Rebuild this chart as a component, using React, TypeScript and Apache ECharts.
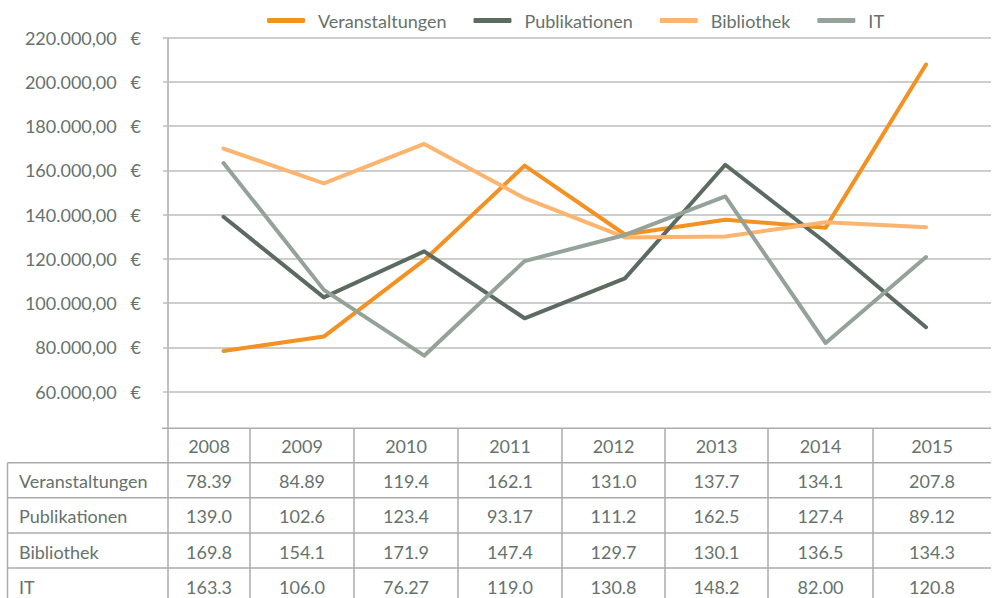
import React, { useEffect, useRef } from "react";
import * as echarts from "echarts";

const years = ["2008", "2009", "2010", "2011", "2012", "2013", "2014", "2015"];
const veranstaltungen = [78390, 84890, 119400, 162100, 131000, 137700, 134100, 207800];
const publikationen = [139000, 102600, 123400, 93170, 111200, 162500, 127400, 89120];
const bibliothek = [169800, 154100, 171900, 147400, 129700, 130100, 136500, 134300];
const it = [163300, 106000, 76270, 119000, 130800, 148200, 82000, 120800];
const seriesNames = ["Veranstaltungen", "Publikationen", "Bibliothek", "IT"];
const seriesColors = ["#f39122", "#5b6b61", "#fcb46f", "#94a29a"];

const FONT = "Lato, 'Noto Sans', sans-serif";
const FONT_SIZE = 18;
const FONT_WEIGHT = 400;
const TEXT = "#66726c";
const GRID = "#bcbcbc";
const TABLE_LINE = "#ababab";

// table layout
const colEdges = [168, 250, 354, 458, 562, 665, 768, 873, 991];
const headerTop = 428.3;
const rowEdges = [462.7, 497.7, 533, 568, 603];
const tableLeft = 7.5;

export default function App() {
  const ref = useRef<HTMLDivElement>(null);
  useEffect(() => {
    if (!ref.current) return;
    const chart = echarts.init(ref.current, undefined, { renderer: "svg" });
    const allSeries = [veranstaltungen, publikationen, bibliothek, it];

    const graphic: any[] = [];
    const line = (x1: number, y1: number, x2: number, y2: number, color: string) =>
      graphic.push({
        type: "line",
        silent: true,
        shape: { x1, y1, x2, y2 },
        style: { stroke: color, lineWidth: 1.5 },
      });
    line(168, 37.5, 168, 598, TABLE_LINE);
    line(162, headerTop, 991, headerTop, TABLE_LINE);
    rowEdges.slice(0, 4).forEach((y) => line(tableLeft, y, 991, y, TABLE_LINE));
    colEdges.slice(1, 8).forEach((x) => line(x, headerTop, x, 598, TABLE_LINE));
    line(tableLeft, rowEdges[0], tableLeft, 598, TABLE_LINE);

    const txt = (text: string, x: number, y: number, align: string) =>
      graphic.push({
        type: "text",
        silent: true,
        x,
        y,
        style: {
          text,
          fill: TEXT,
          font: `${FONT_WEIGHT} ${FONT_SIZE}px ${FONT}`,
          align,
          verticalAlign: "middle",
        },
      });
    years.forEach((yr, i) => {
      txt(yr, (colEdges[i] + colEdges[i + 1]) / 2, (headerTop + rowEdges[0]) / 2, "center");
    });
    seriesNames.forEach((name, r) => {
      const cy = (rowEdges[r] + rowEdges[r + 1]) / 2 + 1;
      txt(name, 19, cy, "left");
      allSeries[r].forEach((v, i) => {
        txt((v / 1000).toPrecision(4), (colEdges[i] + colEdges[i + 1]) / 2, cy, "center");
      });
    });

    const fmt = (v: number) => `${Math.round(v / 1000)}.000,00\u00a0\u00a0 €`;

    chart.setOption({
      animation: false,
      textStyle: { fontFamily: FONT },
      legend: {
        left: 267,
        top: 11.5,
        padding: 0,
        icon: "roundRect",
        itemWidth: 38,
        itemHeight: 5,
        itemGap: 27,
        data: seriesNames,
        textStyle: {
          fontSize: FONT_SIZE,
          fontWeight: FONT_WEIGHT,
          color: TEXT,
          fontFamily: FONT,
          padding: [0, 0, 0, 8],
        },
      },
      grid: [
        { left: 168, right: 1, top: 37.5, bottom: 206.3 },
        { left: 173.3, right: 15.8, top: 37.5, bottom: 206.3 },
      ],
      xAxis: [
        { type: "value", gridIndex: 0, show: false, min: 0, max: 1 },
        { type: "category", gridIndex: 1, data: years, show: false, boundaryGap: true },
      ],
      yAxis: [
        {
          type: "value",
          gridIndex: 0,
          min: 60000,
          max: 220000,
          interval: 20000,
          axisLine: { show: false },
          axisTick: { show: true, length: 5, lineStyle: { color: GRID, width: 1.5 } },
          splitLine: { show: true, lineStyle: { color: GRID, width: 1.5 } },
          axisLabel: {
            formatter: fmt,
            color: TEXT,
            fontSize: FONT_SIZE,
            fontWeight: FONT_WEIGHT,
            fontFamily: FONT,
            margin: 27,
          },
        },
        {
          type: "value",
          gridIndex: 1,
          min: 60000,
          max: 220000,
          interval: 20000,
          show: false,
          splitLine: { show: false },
        },
      ],
      series: seriesNames.map((name, i) => ({
        name,
        type: "line",
        xAxisIndex: 1,
        yAxisIndex: 1,
        data: allSeries[i],
        symbol: "none",
        color: seriesColors[i],
        lineStyle: { width: 4, color: seriesColors[i], cap: "round", join: "round" },
      })),
      graphic,
    });
    return () => chart.dispose();
  }, []);
  return (
    <div
      ref={ref}
      style={{ position: "fixed", left: 0, top: 0, width: 992, height: 598, background: "#fff" }}
    />
  );
}
